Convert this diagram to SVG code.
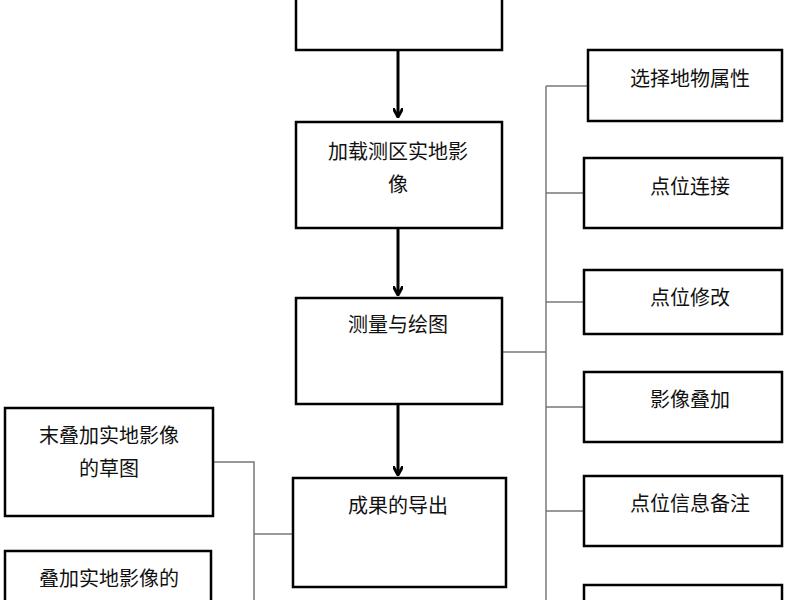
<svg xmlns="http://www.w3.org/2000/svg" width="800" height="600" viewBox="0 0 800 600">
<style>
.b{fill:#fff;stroke:#000;stroke-width:2.5}
.t{font-family:"Liberation Sans","Noto Sans CJK SC",sans-serif;font-size:20px;fill:#111;text-anchor:middle}
.c{fill:none;stroke:#777;stroke-width:1.5}
.a{fill:none;stroke:#000;stroke-width:3}
</style>
<defs><marker id="ah" markerWidth="10" markerHeight="10" refX="8" refY="5" orient="auto" markerUnits="userSpaceOnUse"><path d="M0,0 L9,5 L0,10" fill="none" stroke="#000" stroke-width="3"/></marker></defs>
<rect width="800" height="600" fill="#fff"/>
<g id="connectors">
<line class="a" x1="398" y1="50" x2="398" y2="116" marker-end="url(#ah)"/>
<line class="a" x1="398" y1="228" x2="398" y2="294" marker-end="url(#ah)"/>
<line class="a" x1="398" y1="404" x2="398" y2="474" marker-end="url(#ah)"/>
<polyline class="c" points="502,352 546,352"/>
<line class="c" x1="546" y1="86" x2="546" y2="600"/>
<line class="c" x1="546" y1="86" x2="588" y2="86"/>
<line class="c" x1="546" y1="193" x2="584" y2="193"/>
<line class="c" x1="546" y1="302" x2="584" y2="302"/>
<line class="c" x1="546" y1="407" x2="584" y2="407"/>
<line class="c" x1="546" y1="511" x2="584" y2="511"/>
<polyline class="c" points="213,462 254,462 254,600"/>
<line class="c" x1="254" y1="534" x2="293" y2="534"/>
</g>
<g id="n0"><rect class="b" x="296" y="-5" width="206" height="55"/></g>
<g id="n1"><rect class="b" x="296" y="122" width="206" height="106"/><text class="t" x="398" y="159">加载测区实地影</text><text class="t" x="398" y="192">像</text></g>
<g id="n2"><rect class="b" x="296" y="298" width="206" height="106"/><text class="t" x="398" y="332">测量与绘图</text></g>
<g id="n3"><rect class="b" x="293" y="478" width="213" height="109"/><text class="t" x="398" y="513">成果的导出</text></g>
<g id="r1"><rect class="b" x="588" y="50" width="194" height="71"/><text class="t" x="690" y="86">选择地物属性</text></g>
<g id="r2"><rect class="b" x="584" y="158" width="198" height="70"/><text class="t" x="690" y="194">点位连接</text></g>
<g id="r3"><rect class="b" x="584" y="270" width="198" height="64"/><text class="t" x="690" y="305">点位修改</text></g>
<g id="r4"><rect class="b" x="584" y="372" width="198" height="70"/><text class="t" x="690" y="407">影像叠加</text></g>
<g id="r5"><rect class="b" x="584" y="476" width="198" height="70"/><text class="t" x="690" y="511">点位信息备注</text></g>
<g id="r6"><rect class="b" x="584" y="585" width="198" height="40"/></g>
<g id="l1"><rect class="b" x="5" y="408" width="208" height="108"/><text class="t" x="109" y="443">末叠加实地影像</text><text class="t" x="109" y="476">的草图</text></g>
<g id="l2"><rect class="b" x="5" y="551" width="206" height="70"/><text class="t" x="109" y="586">叠加实地影像的</text></g>
</svg>
